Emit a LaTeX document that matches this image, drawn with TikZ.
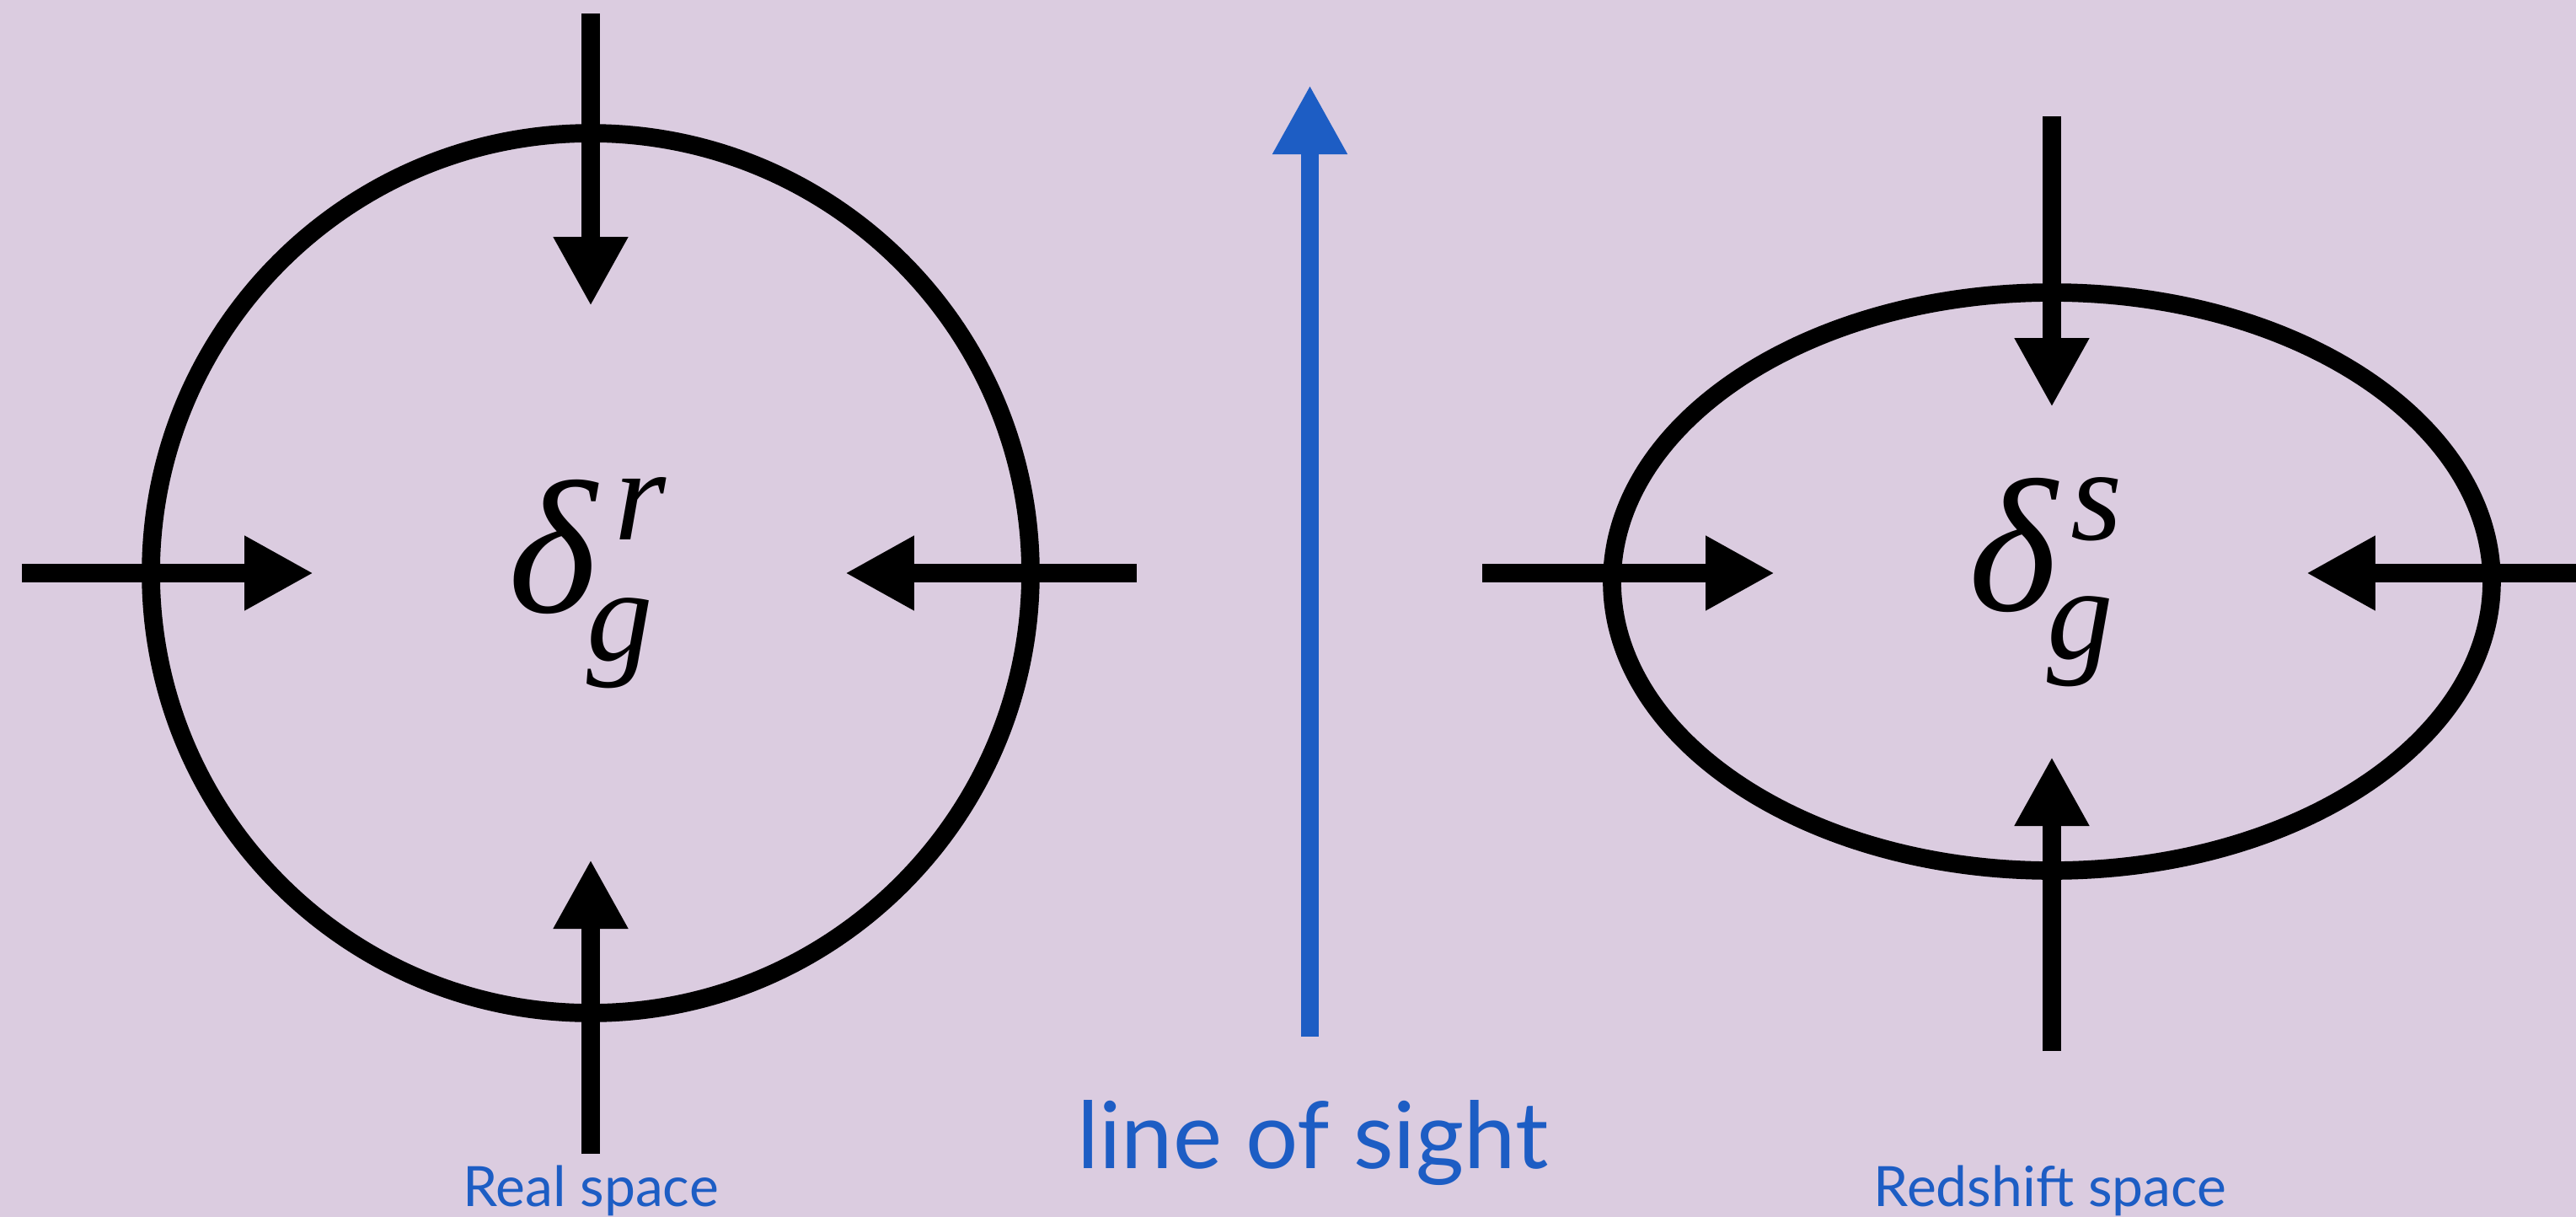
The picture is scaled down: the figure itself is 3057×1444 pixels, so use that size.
\documentclass[tikz,border=0pt]{standalone}
\usepackage{fontspec}
\setmainfont{Liberation Serif}
\newfontfamily\labelfont{Lato}
\usetikzlibrary{arrows.meta}
\definecolor{bg}{RGB}{219,204,224}
\definecolor{losblue}{RGB}{29,93,196}
\begin{document}
\begin{tikzpicture}[x=0.1pt,y=-0.1pt,
  flow/.style={line width=2.17pt, -{Triangle[length=8.2pt,width=8.3pt]}},
  ring/.style={line width=2.17pt},
  sym/.style={inner sep=0pt, anchor=base, font=\fontsize{22.5pt}{24pt}\selectfont\itshape},
  idx/.style={inner sep=0pt, anchor=base, font=\fontsize{15.7pt}{17pt}\selectfont\itshape},
  caption/.style={inner sep=0pt, anchor=base, text=losblue, font=\labelfont\fontsize{6.6pt}{8pt}\selectfont}]
\fill[bg] (0,0) rectangle (3057,1444);
\useasboundingbox (0,0) rectangle (3057,1444);

% real space
\draw[ring] (701,680) circle[radius=52.2pt];
\coordinate (rl0) at (26,680);   \coordinate (rl1) at (372,680);
\coordinate (rr0) at (1349,680); \coordinate (rr1) at (1003,680);
\coordinate (rt0) at (701,16);   \coordinate (rt1) at (701,363);
\coordinate (rb0) at (701,1369); \coordinate (rb1) at (701,1020);
\draw[flow] (rl0) -- (rl1);
\draw[flow] (rr0) -- (rr1);
\draw[flow] (rt0) -- (rt1);
\draw[flow] (rb0) -- (rb1);
\node[sym] (dr) at (656,726) {δ};
\node[idx] (rr) at (760,640) {r};
\node[idx] (gr) at (736,783) {g};
\node[caption] (real) at (701,1431) {Real space};

% line of sight
\coordinate (l0) at (1554.5,1230); \coordinate (l1) at (1554.5,101);
\draw[flow, draw=losblue, fill=losblue] (l0) -- (l1);
\node[caption, font=\labelfont\fontsize{11pt}{13pt}\selectfont] (los) at (1558,1386) {line of sight};

% redshift space
\draw[ring] (2435,690) ellipse[x radius=52.2pt, y radius=34.3pt];
\coordinate (sl0) at (1759,680);  \coordinate (sl1) at (2106,680);
\coordinate (sr0) at (3070,680);  \coordinate (sr1) at (2737,680);
\coordinate (st0) at (2435,138);  \coordinate (st1) at (2435,483);
\coordinate (sb0) at (2435,1247); \coordinate (sb1) at (2435,898);
\draw[flow] (sl0) -- (sl1);
\draw[flow] (sr0) -- (sr1);
\draw[flow] (st0) -- (st1);
\draw[flow] (sb0) -- (sb1);
\node[sym] (ds) at (2389,724) {δ};
\node[idx] (ss) at (2488,640) {s};
\node[idx] (gs) at (2469,781) {g};
\node[caption] (red) at (2433,1431) {Redshift space};
\end{tikzpicture}
\end{document}
